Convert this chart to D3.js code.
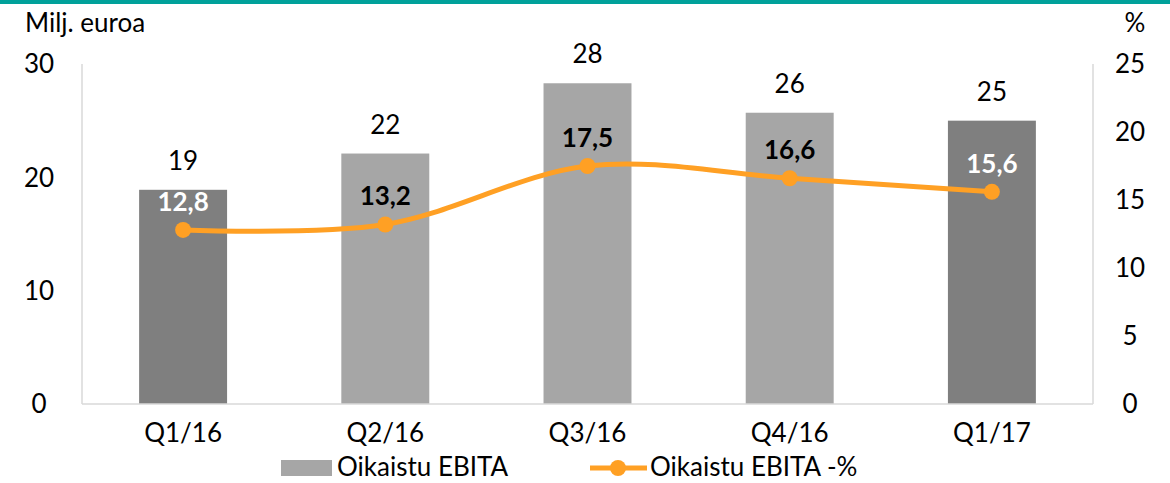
<!DOCTYPE html>
<html>
<head>
<meta charset="utf-8">
<script src="https://cdn.jsdelivr.net/npm/d3@7"></script>
<style>
  body { margin: 0; background: #fff; }
  svg { display: block; font-family: Lato, "Open Sans", sans-serif; }
</style>
</head>
<body>
<div id="main"></div>
<script>

const quarters = ['Q1/16', 'Q2/16', 'Q3/16', 'Q4/16', 'Q1/17'];
const ebita = [18.9, 22.1, 28.3, 25.7, 25.0];
const ebitaLabels = ['19', '22', '28', '26', '25'];
const ebitaPct = [12.8, 13.2, 17.5, 16.6, 15.6];
const leftTicks = [0, 10, 20, 30];
const rightTicks = [0, 5, 10, 15, 20, 25];

const w = 1170;
const h = 483;
const pLeft = 82, pRight = 1093, pTop = 64, pBottom = 404;
const fs = 26;
const orange = '#FFA024';

const svg = d3.select('#main').append('svg').attr('width', w).attr('height', h);

// teal strip at the top
svg.append('rect').attr('x', 0).attr('y', 0).attr('width', w).attr('height', 4).attr('fill', '#00A19A');

const x = d3.scaleBand().domain(quarters).range([pLeft, pRight]).paddingInner(0.565).paddingOuter(0.2825);
const yL = d3.scaleLinear().domain([0, 30]).range([pBottom, pTop]);
const yR = d3.scaleLinear().domain([0, 25]).range([pBottom, pTop]);

const dark = d => d === 'Q1/16' || d === 'Q1/17';

// axis frame lines
svg.append('line').attr('x1', pLeft).attr('x2', pLeft).attr('y1', pTop).attr('y2', pBottom).attr('stroke', '#D9D9D9').attr('stroke-width', 1.5);
svg.append('line').attr('x1', pRight).attr('x2', pRight).attr('y1', pTop).attr('y2', pBottom).attr('stroke', '#D9D9D9').attr('stroke-width', 1.5);

// bars
svg.selectAll('rect.bar').data(quarters).enter().append('rect')
    .attr('class', 'bar')
    .attr('x', d => x(d))
    .attr('width', x.bandwidth())
    .attr('y', (d, i) => yL(ebita[i]))
    .attr('height', (d, i) => pBottom - yL(ebita[i]))
    .attr('fill', d => dark(d) ? '#7F7F7F' : '#A6A6A6');

svg.append('line').attr('x1', pLeft).attr('x2', pRight).attr('y1', pBottom).attr('y2', pBottom).attr('stroke', '#D9D9D9').attr('stroke-width', 1.5);

// bar labels
svg.selectAll('text.blab').data(quarters).enter().append('text')
    .attr('x', d => x(d) + x.bandwidth() / 2)
    .attr('y', (d, i) => yL(ebita[i]) - 20)
    .attr('text-anchor', 'middle')
    .attr('font-size', fs)
    .attr('fill', '#000')
    .text((d, i) => ebitaLabels[i]);

// left ticks
svg.selectAll('text.lt').data(leftTicks).enter().append('text')
    .attr('x', 39).attr('y', d => yL(d)).attr('dy', '0.36em')
    .attr('text-anchor', 'middle').attr('font-size', fs).text(d => d);

// right ticks
svg.selectAll('text.rt').data(rightTicks).enter().append('text')
    .attr('x', 1130).attr('y', d => yR(d)).attr('dy', '0.36em')
    .attr('text-anchor', 'middle').attr('font-size', fs).text(d => d);

svg.append('text').attr('x', 25).attr('y', 32).attr('font-size', fs).text('Milj. euroa');
svg.append('text').attr('x', 1135).attr('y', 32).attr('text-anchor', 'middle').attr('font-size', fs).text('%');

// category labels
svg.selectAll('text.cat').data(quarters).enter().append('text')
    .attr('x', d => x(d) + x.bandwidth() / 2)
    .attr('y', 442)
    .attr('text-anchor', 'middle').attr('font-size', fs).text(d => d);

// line
const pts = quarters.map((q, i) => [x(q) + x.bandwidth() / 2, yR(ebitaPct[i])]);
svg.append('path').datum(pts)
    .attr('d', d3.line().curve(d3.curveCardinal.tension(0)))
    .attr('fill', 'none').attr('stroke', orange).attr('stroke-width', 5);

svg.selectAll('circle.pt').data(pts).enter().append('circle')
    .attr('cx', d => d[0]).attr('cy', d => d[1]).attr('r', 8).attr('fill', orange);

svg.selectAll('text.plab').data(quarters).enter().append('text')
    .attr('x', d => x(d) + x.bandwidth() / 2)
    .attr('y', (d, i) => yR(ebitaPct[i]) - 19)
    .attr('text-anchor', 'middle').attr('font-size', fs).attr('font-weight', 'bold')
    .attr('fill', d => dark(d) ? '#fff' : '#000')
    .text((d, i) => d3.format('.1f')(ebitaPct[i]).replace('.', ','));

// legend
const lg = svg.append('g');
lg.append('rect').attr('x', 281).attr('y', 460).attr('width', 51).attr('height', 16).attr('fill', '#A6A6A6');
lg.append('text').attr('x', 337).attr('y', 476).attr('font-size', fs).text('Oikaistu EBITA');
lg.append('line').attr('x1', 590).attr('x2', 647).attr('y1', 468).attr('y2', 468).attr('stroke', orange).attr('stroke-width', 5);
lg.append('circle').attr('cx', 618).attr('cy', 468).attr('r', 8).attr('fill', orange);
lg.append('text').attr('x', 650).attr('y', 476).attr('font-size', fs).text('Oikaistu EBITA -%');

</script>
</body>
</html>
